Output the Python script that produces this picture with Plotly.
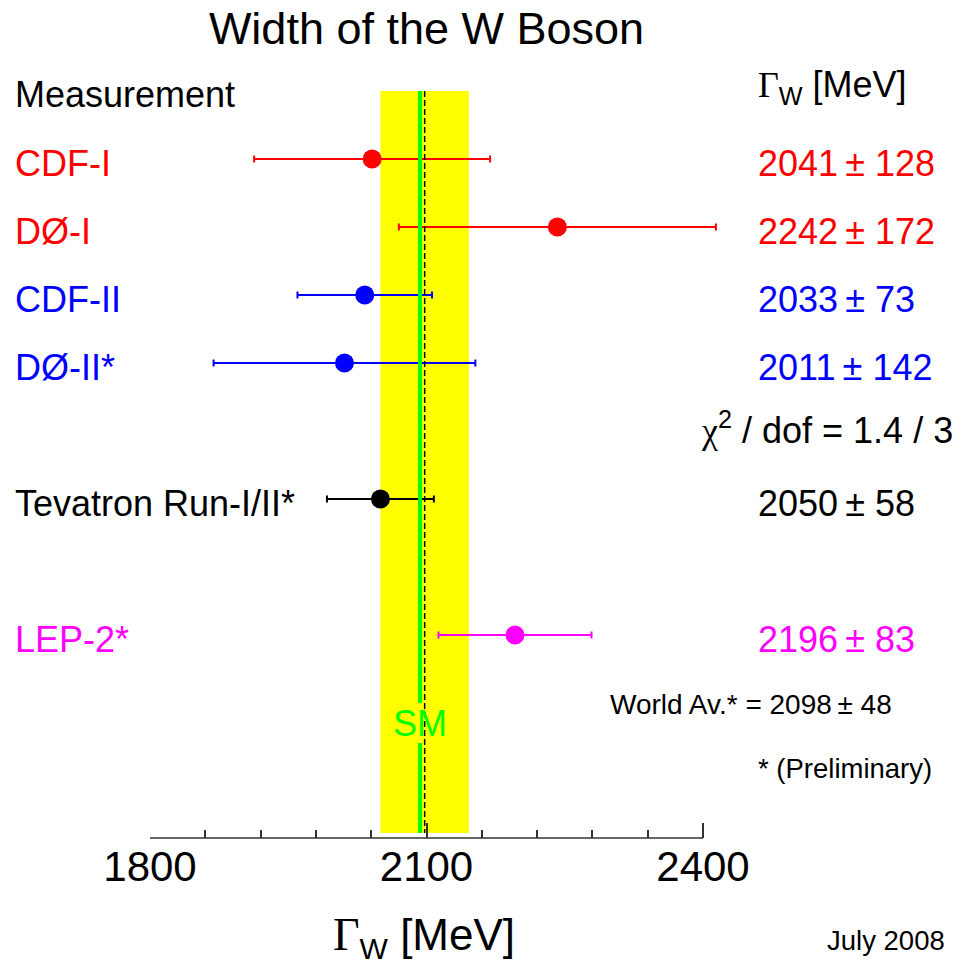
import plotly.graph_objects as go

# ---- data ----
labels = ["CDF-I", "DØ-I", "CDF-II", "DØ-II*", "Tevatron Run-I/II*", "LEP-2*"]
values = [2041, 2242, 2033, 2011, 2050, 2196]
errors = [128, 172, 73, 142, 58, 83]
rows = [1, 2, 3, 4, 6, 8]
colors = ["#ff0000", "#ff0000", "#0000ff", "#0000ff", "#000000", "#ff00ff"]
value_texts = ["2041\u2009± 128", "2242\u2009± 172", "2033\u2009± 73",
               "2011\u2009± 142", "2050\u2009± 58", "2196\u2009± 83"]
world_avg = 2098
world_err = 48
sm_value = 2093
axis_min, axis_max = 1800, 2400
tick_major = 300
tick_minor = 60

FONT = "Liberation Sans"

# plot area spans pixels 150..720 so that the longest error bar is not cut;
# the drawn axis itself covers axis_min..axis_max (pixels 150..703)
PX_LEFT, PX_RIGHT = 150, 720
PX_PER_MEV = (703 - 150) / float(axis_max - axis_min)
x_range = [axis_min, axis_min + (PX_RIGHT - PX_LEFT) / PX_PER_MEV]
major_vals = list(range(axis_min, axis_max + 1, tick_major))
minor_vals = [v for v in range(axis_min, axis_max + 1, tick_minor)
              if v not in major_vals]


def ypx(p):
    # convert a pixel row of the picture into row units
    return (p - 91) / 68.0


def xpaper(p):
    return (p - PX_LEFT) / float(PX_RIGHT - PX_LEFT)


def ypaper(p):
    return (838 - p) / 838.0


fig = go.Figure()

# yellow band (world average)
fig.add_shape(type="rect", xref="x", yref="y",
              x0=world_avg - world_err, x1=world_avg + world_err,
              y0=0, y1=ypx(833), fillcolor="#ffff00", line_width=0,
              layer="below")
# SM line (with gap for the label)
fig.add_shape(type="line", xref="x", yref="y", x0=sm_value, x1=sm_value,
              y0=0, y1=ypx(703), line=dict(color="#00ff00", width=4))
fig.add_shape(type="line", xref="x", yref="y", x0=sm_value, x1=sm_value,
              y0=ypx(743), y1=ypx(833), line=dict(color="#00ff00", width=4))
# world average dashed line
fig.add_shape(type="line", xref="x", yref="y", x0=world_avg, x1=world_avg,
              y0=0, y1=ypx(833),
              line=dict(color="#000000", width=1.5, dash="6px,3px"))
# axis line over the axis span only
fig.add_shape(type="line", xref="x", yref="paper", x0=axis_min, x1=axis_max,
              y0=0, y1=0, line=dict(color="#333333", width=1.5), layer="above")

for lab, v, e, r, c in zip(labels, values, errors, rows, colors):
    fig.add_trace(go.Scatter(
        x=[v], y=[r], mode="markers",
        marker=dict(size=19, color=c, symbol="circle"),
        error_x=dict(type="data", array=[e], color=c, thickness=2, width=3.5),
        showlegend=False, hoverinfo="skip", name=lab, cliponaxis=False))

ann = []
# left labels and right values
for lab, txt, r, c in zip(labels, value_texts, rows, colors):
    ann.append(dict(x=xpaper(13), xref="paper", y=r + 4 / 68.0, yref="y",
                    text=lab, showarrow=False, xanchor="left", yanchor="middle",
                    font=dict(family=FONT, size=36, color=c)))
    ann.append(dict(x=xpaper(756), xref="paper", y=r + 4 / 68.0, yref="y",
                    text=txt, showarrow=False, xanchor="left", yanchor="middle",
                    font=dict(family=FONT, size=36, color=c)))

ann.append(dict(x=xpaper(13), xref="paper", y=ypaper(95), yref="paper",
                text="Measurement", showarrow=False, xanchor="left",
                yanchor="middle", font=dict(family=FONT, size=36, color="black")))
ann.append(dict(x=xpaper(756), xref="paper", y=ypaper(87), yref="paper",
                text="<span style='font-family:Liberation Serif'>Γ</span><sub>W</sub> [MeV]",
                showarrow=False, xanchor="left", yanchor="middle",
                font=dict(family=FONT, size=36, color="black")))
ann.append(dict(x=xpaper(699), xref="paper", y=ypaper(428), yref="paper",
                text="<span style='font-family:Liberation Serif'>χ</span><sup>2</sup> / dof = 1.4 / 3",
                showarrow=False, xanchor="left", yanchor="middle",
                font=dict(family=FONT, size=36, color="black")))
ann.append(dict(x=xpaper(608), xref="paper", y=ypaper(704), yref="paper",
                text="World Av.* = %d\u2009± %d" % (world_avg, world_err),
                showarrow=False, xanchor="left", yanchor="middle",
                font=dict(family=FONT, size=28, color="black")))
ann.append(dict(x=xpaper(756), xref="paper", y=ypaper(768), yref="paper",
                text="* (Preliminary)",
                showarrow=False, xanchor="left", yanchor="middle",
                font=dict(family=FONT, size=27.5, color="black")))
ann.append(dict(x=xpaper(825), xref="paper", y=ypaper(940), yref="paper",
                text="July 2008",
                showarrow=False, xanchor="left", yanchor="middle",
                font=dict(family=FONT, size=27.5, color="black")))
ann.append(dict(x=sm_value, xref="x", y=ypaper(723), yref="paper",
                text="SM", showarrow=False, xanchor="center", yanchor="middle",
                font=dict(family=FONT, size=36, color="#00ff00")))
ann.append(dict(x=xpaper(331), xref="paper", y=ypaper(937), yref="paper",
                text="<span style='font-family:Liberation Serif;font-size:46px'>Γ</span>"
                     "<sub><span style='font-size:30px'>W</span></sub> [MeV]",
                showarrow=False, xanchor="left", yanchor="middle",
                font=dict(family=FONT, size=44, color="black")))

fig.update_layout(
    width=963, height=966,
    margin=dict(l=PX_LEFT, r=963 - PX_RIGHT, t=0, b=128, pad=0),
    paper_bgcolor="white", plot_bgcolor="white",
    title=dict(text="Width of the W Boson", x=xpaper(426.5), xref="paper",
               xanchor="center", y=1 - 28 / 966.0, yref="container",
               yanchor="middle", font=dict(family=FONT, size=45, color="black")),
    annotations=ann,
    xaxis=dict(range=x_range, showgrid=False, zeroline=False,
               showline=False,
               ticks="inside", ticklen=15, tickwidth=1.5, tickcolor="#333333",
               tickmode="array", tickvals=major_vals,
               ticktext=[str(v) for v in major_vals],
               ticklabelstandoff=0,
               tickfont=dict(family=FONT, size=42, color="black"),
               minor=dict(ticks="inside", ticklen=8, tickwidth=1.5,
                          tickcolor="#333333", tickmode="array",
                          tickvals=minor_vals, showgrid=False),
               fixedrange=True),
    yaxis=dict(range=[ypx(838), ypx(0)], visible=False, showgrid=False,
               zeroline=False, fixedrange=True),
    showlegend=False,
)

fig.write_html("out.html", config={"displayModeBar": False},
               post_script="document.body.style.margin='0';"
                           "document.body.style.overflow='hidden';")
